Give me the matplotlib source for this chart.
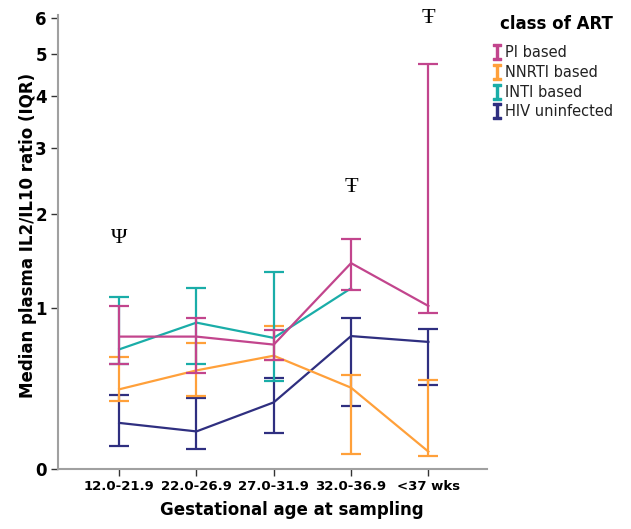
import numpy as np
import matplotlib
matplotlib.use("Agg")
import matplotlib.pyplot as plt
from matplotlib.lines import Line2D

# gestational age bins and groups
categories = ["12.0-21.9", "22.0-26.9", "27.0-31.9", "32.0-36.9", "<37 wks"]
groups = ["PI based", "NNRTI based", "INTI based", "HIV uninfected"]
colors = ["#C2458D", "#FFA03A", "#1AADA8", "#2F2F80"]

# median, 25th and 75th percentile of IL2/IL10 ratio (nan = not shown)
pi_med = [0.77, 0.77, 0.71, 1.43, 1.02]
pi_lo = [0.57, 0.51, 0.60, 1.16, 0.96]
pi_hi = [1.02, 0.92, 0.82, 1.70, 4.73]

nnrti_med = [0.41, 0.53, 0.63, 0.42, 0.078]
nnrti_lo = [0.34, 0.37, 0.60, 0.065, 0.059]
nnrti_hi = [0.62, 0.72, 0.85, 0.50, 0.47]

inti_med = [0.675, 0.88, 0.76, 1.18, np.nan]
inti_lo = [0.57, 0.57, 0.46, np.nan, np.nan]
inti_hi = [1.10, 1.18, 1.34, np.nan, np.nan]

hiv_med = [0.22, 0.176, 0.333, 0.774, 0.73]
hiv_lo = [0.104, 0.089, 0.17, 0.31, 0.436]
hiv_hi = [0.376, 0.36, 0.478, 0.92, 0.826]

medians = [pi_med, nnrti_med, inti_med, hiv_med]
lows = [pi_lo, nnrti_lo, inti_lo, hiv_lo]
highs = [pi_hi, nnrti_hi, inti_hi, hiv_hi]

# significance marks: (category index, y value, symbol)
marks = [(0, 1.70, "\u03a8"), (3, 2.37, "\u0166"), (4, 5.98, "\u0166")]

fig = plt.figure(figsize=(6.31, 5.29), dpi=100)
ax = fig.add_axes([0.092, 0.1134, 0.68, 0.858])
ax.set_yscale("function", functions=(np.log1p, np.expm1))

x = np.arange(len(categories))
for i in [3, 1, 2, 0]:
    med = np.array(medians[i], dtype=float)
    lo = np.array(lows[i], dtype=float)
    hi = np.array(highs[i], dtype=float)
    ok = ~np.isnan(med)
    ax.plot(x[ok], med[ok], color=colors[i], lw=1.6, zorder=3)
    eb = ~np.isnan(lo)
    ax.errorbar(x[eb], med[eb], yerr=[med[eb] - lo[eb], hi[eb] - med[eb]],
                fmt="none", ecolor=colors[i], elinewidth=1.6, capsize=7,
                capthick=1.6, zorder=3)

for xi, yi, sym in marks:
    ax.text(xi, yi, sym, ha="center", va="center", fontsize=16,
            family=["Liberation Serif", "DejaVu Serif"])

ax.set_xlim(-0.79, 4.76)
ax.set_ylim(0, 6.08)
ax.set_yticks([0, 1, 2, 3, 4, 5, 6])
ax.set_yticklabels(["0", "1", "2", "3", "4", "5", "6"], fontsize=12,
                   fontweight="bold")
ax.set_xticks(x)
ax.set_xticklabels(categories, fontsize=9.5, fontweight="bold")
ax.tick_params(length=5, width=1, color="#333333", pad=3)
ax.minorticks_off()

for side in ["top", "right"]:
    ax.spines[side].set_visible(False)
for side in ["left", "bottom"]:
    ax.spines[side].set_color("#a0a0a0")
    ax.spines[side].set_linewidth(1.5)

ax.set_xlabel("Gestational age at sampling", fontsize=12, fontweight="bold")
ax.xaxis.set_label_coords(0.545, -0.07)
ax.set_ylabel("Median plasma IL2/IL10 ratio (IQR)", fontsize=12,
              fontweight="bold")
ax.yaxis.set_label_coords(-0.05, 0.515)

# legend title drawn separately so the gap above the entries matches
fig.text(0.793, 1 - 24 / 529, "class of ART", fontsize=12, fontweight="bold",
         ha="left", va="center")
handles = [Line2D([], [], color=c, marker=r"$\mathtt{I}$", linestyle="none",
                  markersize=11) for c in colors]
fig.legend(handles, groups, loc="upper left",
           bbox_to_anchor=(0.777, 1 - 45 / 529), frameon=False,
           handletextpad=0.1, labelspacing=0.33, handlelength=0.9,
           borderaxespad=0, borderpad=0, fontsize=10.5, labelcolor="#222222")

plt.savefig("out.png", dpi=100)
plt.close()
